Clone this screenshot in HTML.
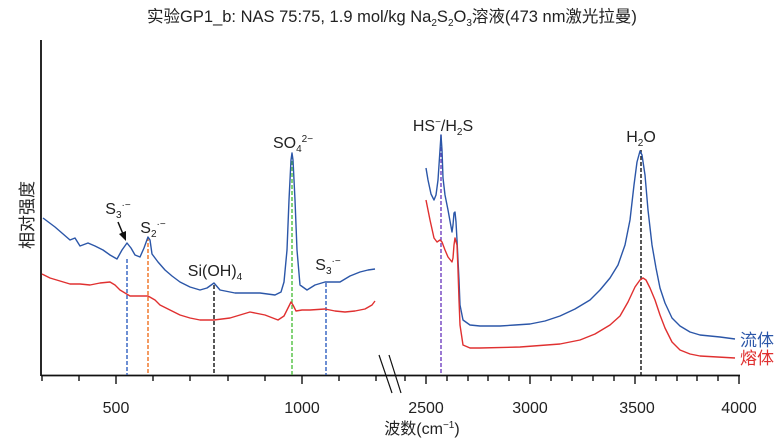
<!DOCTYPE html>
<html><head><meta charset="utf-8"><style>
body{margin:0;background:#fff}
svg{display:block;font-family:"Liberation Sans","Noto Sans CJK SC",sans-serif}
</style></head><body>
<svg width="784" height="441" viewBox="0 0 784 441" xmlns="http://www.w3.org/2000/svg">
<text x="392" y="22" font-size="16.5" text-anchor="middle" fill="#222">实验GP1_b: NAS 75:75, 1.9 mol/kg Na<tspan font-size="10" dy="4">2</tspan><tspan dy="-4">S</tspan><tspan font-size="10" dy="4">2</tspan><tspan dy="-4">O</tspan><tspan font-size="10" dy="4">3</tspan><tspan dy="-4">溶液(473 nm激光拉曼)</tspan></text>
<g stroke="#111" stroke-width="1.8" fill="none">
<line x1="41" y1="40" x2="41" y2="376"/>
<line x1="41" y1="375.5" x2="740" y2="375.5"/>
</g>
<g stroke="#111" stroke-width="1.4">
<line x1="42" y1="375" x2="42" y2="381"/><line x1="79" y1="375" x2="79" y2="381"/><line x1="116" y1="375" x2="116" y2="384"/><line x1="153" y1="375" x2="153" y2="381"/><line x1="190" y1="375" x2="190" y2="381"/><line x1="228" y1="375" x2="228" y2="381"/><line x1="265" y1="375" x2="265" y2="381"/><line x1="302" y1="375" x2="302" y2="384"/><line x1="339" y1="375" x2="339" y2="381"/><line x1="376" y1="375" x2="376" y2="381"/>
<line x1="405" y1="375" x2="405" y2="381"/><line x1="426" y1="375" x2="426" y2="384"/><line x1="447" y1="375" x2="447" y2="381"/><line x1="468" y1="375" x2="468" y2="381"/><line x1="488" y1="375" x2="488" y2="381"/><line x1="509" y1="375" x2="509" y2="381"/><line x1="530" y1="375" x2="530" y2="384"/><line x1="551" y1="375" x2="551" y2="381"/><line x1="572" y1="375" x2="572" y2="381"/><line x1="593" y1="375" x2="593" y2="381"/><line x1="614" y1="375" x2="614" y2="381"/><line x1="635" y1="375" x2="635" y2="384"/><line x1="656" y1="375" x2="656" y2="381"/><line x1="677" y1="375" x2="677" y2="381"/><line x1="697" y1="375" x2="697" y2="381"/><line x1="718" y1="375" x2="718" y2="381"/><line x1="739" y1="375" x2="739" y2="384"/>
</g>
<g stroke="#111" stroke-width="1.2"><line x1="379" y1="355" x2="392" y2="393"/><line x1="389" y1="355" x2="401" y2="393"/></g>
<g font-size="16" fill="#222" text-anchor="middle">
<text x="116" y="413">500</text><text x="302" y="413">1000</text><text x="426" y="413">2500</text><text x="530" y="413">3000</text><text x="637" y="413">3500</text><text x="739" y="413">4000</text>
<text x="422" y="434">波数(cm<tspan font-size="10" dy="-6">−1</tspan><tspan dy="6">)</tspan></text>
<text transform="translate(33,215) rotate(-90)" font-size="17">相对强度</text>
</g>
<g stroke-width="1.4" stroke-dasharray="4,2" fill="none">
<line x1="127" y1="259" x2="127" y2="375" stroke="#2f5fc0"/>
<line x1="148" y1="237" x2="148" y2="375" stroke="#f07020"/>
<line x1="214" y1="285" x2="214" y2="375" stroke="#111"/>
<line x1="292" y1="155" x2="292" y2="375" stroke="#50c040"/>
<line x1="326" y1="283" x2="326" y2="375" stroke="#2f5fc0"/>
<line x1="441" y1="135" x2="441" y2="375" stroke="#7040c0"/>
<line x1="641" y1="150" x2="641" y2="375" stroke="#111"/>
</g>
<g fill="none" stroke-width="1.4" stroke-linejoin="round">
<polyline stroke="#2b56a8" points="43,218 55,227 70,240 75,238 80,246 88,243 95,246 103,250 110,255 117,259 122,250 127,243 131,248 135,255 140,257 144,248 148,237 150,240 152,254 158,262 165,270 172,276 180,282 190,287 200,290 207,288 214,283 220,290 235,293 260,293 275,295 281,292 284,282 287,250 289,200 291,160 292,153 293,160 295,200 297,250 300,285 307,290 315,285 325,282 340,282 350,276 360,272 368,270 375,269"/>
<polyline stroke="#e03030" points="42,274 50,278 60,281 70,284 80,284 90,285 100,283 110,282 115,285 120,290 130,296 148,296 155,300 160,305 170,310 180,315 190,318 200,320 214,320 230,318 250,312 265,315 278,320 284,316 288,308 291,302 293,305 296,311 302,310 310,310 325,309 335,311 345,312 355,311 365,309 372,305 375,301"/>
<polyline stroke="#2b56a8" points="426,168 428,180 431,194 434,200 436,195 438,180 440,150 441,135 442,150 443,178 445,195 448,210 452,232 453,225 454,213 455,212 456,222 457,240 459,280 460,305 463,320 470,325 480,326 500,326 515,325 530,324 545,321 560,316 575,309 590,300 600,290 610,278 618,265 625,245 630,220 634,185 637,162 640,151 642,155 645,175 648,210 652,245 656,268 660,288 665,303 672,318 680,326 690,332 700,335 720,337 735,339"/>
<polyline stroke="#e03030" points="426,200 430,220 434,238 437,242 440,240 442,242 445,250 448,257 452,262 453,258 454,245 455,238 457,245 458,270 459,300 460,325 463,345 470,348 480,348 520,347 560,344 580,340 595,334 610,325 620,316 628,302 635,287 640,280 643,278 646,280 650,288 655,300 660,315 665,328 672,342 680,350 690,354 700,356 735,358"/>
</g>
<g font-size="16" fill="#222" text-anchor="middle">
<text x="118" y="214">S<tspan font-size="10" dy="4">3</tspan><tspan font-size="10" dy="-10">·−</tspan></text>
<text x="153" y="233">S<tspan font-size="10" dy="4">2</tspan><tspan font-size="10" dy="-10">·−</tspan></text>
<text x="215" y="276">Si(OH)<tspan font-size="10" dy="4">4</tspan></text>
<text x="293" y="148">SO<tspan font-size="10" dy="4">4</tspan><tspan font-size="10" dy="-10">2−</tspan></text>
<text x="328" y="270">S<tspan font-size="10" dy="4">3</tspan><tspan font-size="10" dy="-10">·−</tspan></text>
<text x="443" y="131">HS<tspan font-size="10" dy="-6">−</tspan><tspan dy="6">/H</tspan><tspan font-size="10" dy="4">2</tspan><tspan dy="-4">S</tspan></text>
<text x="641" y="142">H<tspan font-size="10" dy="4">2</tspan><tspan dy="-4">O</tspan></text>
</g>
<line x1="118" y1="222" x2="123" y2="234" stroke="#111" stroke-width="1.5"/>
<polygon points="126,241 119,234 126,231" fill="#111"/>
<text x="740" y="346" font-size="17" fill="#2b56a8" font-family="Liberation Sans,Noto Sans CJK SC,sans-serif">流体</text>
<text x="740" y="364" font-size="17" fill="#e03030" font-family="Liberation Sans,Noto Sans CJK SC,sans-serif">熔体</text>
</svg>
</body></html>
